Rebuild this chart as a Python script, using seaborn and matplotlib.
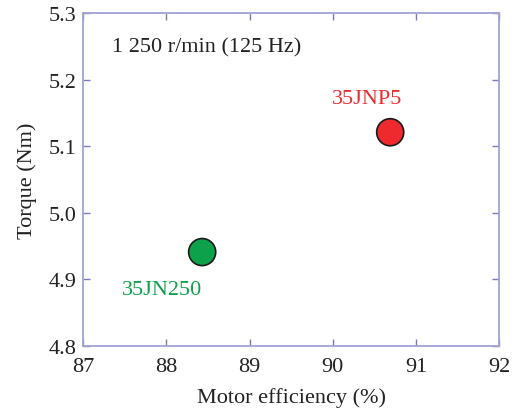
import matplotlib
matplotlib.use("Agg")
import matplotlib.pyplot as plt
import seaborn as sns
import pandas as pd

# Data
materials = ["35JN250", "35JNP5"]
efficiency = [88.43, 90.69]
torque = [4.941, 5.121]
colors = ["#0ca14a", "#ee2a2e"]

df = pd.DataFrame({"Material": materials, "Efficiency": efficiency, "Torque": torque})

sns.set_style("white")
plt.rcParams['font.family'] = ['Liberation Serif', 'DejaVu Serif']

frame_color = "#a3a3d6"
text_color = "#222222"

fig, ax = plt.subplots(figsize=(5.2, 4.14), dpi=100)
sns.scatterplot(data=df, x="Efficiency", y="Torque", hue="Material",
                palette=colors, s=380, edgecolor="#1a1a1a", linewidth=1.2,
                legend=False, ax=ax, zorder=3)

ax.set_xlim(87, 92)
ax.set_ylim(4.8, 5.3)
ax.set_xticks([87, 88, 89, 90, 91, 92])
ax.set_yticks([4.8, 4.9, 5.0, 5.1, 5.2, 5.3])
ax.set_yticklabels(["4.8", "4.9", "5.0", "5.1", "5.2", "5.3"])

ax.tick_params(direction="in", length=5, width=1, color="#7b7bc0",
               labelsize=16, labelcolor=text_color, top=True, right=True,
               bottom=True, left=True)
ax.tick_params(axis="x", pad=8)
ax.tick_params(axis="y", pad=5)
for sp in ax.spines.values():
    sp.set_color(frame_color)
    sp.set_linewidth(1.3)

ax.set_xlabel("Motor efficiency (%)", fontsize=16, color=text_color, labelpad=8)
ax.set_ylabel("Torque (Nm)", fontsize=16, color=text_color, labelpad=8)

# Point labels
ax.text(efficiency[0] - 0.48, torque[0] - 0.056, materials[0], color=colors[0],
        fontsize=16, ha="center", va="center")
ax.text(efficiency[1] - 0.28, torque[1] + 0.051, materials[1], color=colors[1],
        fontsize=16, ha="center", va="center")

ax.text(0.07, 0.90, "1 250 r/min (125 Hz)", transform=ax.transAxes,
        fontsize=16, color=text_color, ha="left", va="center")

fig.subplots_adjust(left=0.16, right=0.96, bottom=0.162, top=0.966)
fig.savefig("out.png", dpi=100)
